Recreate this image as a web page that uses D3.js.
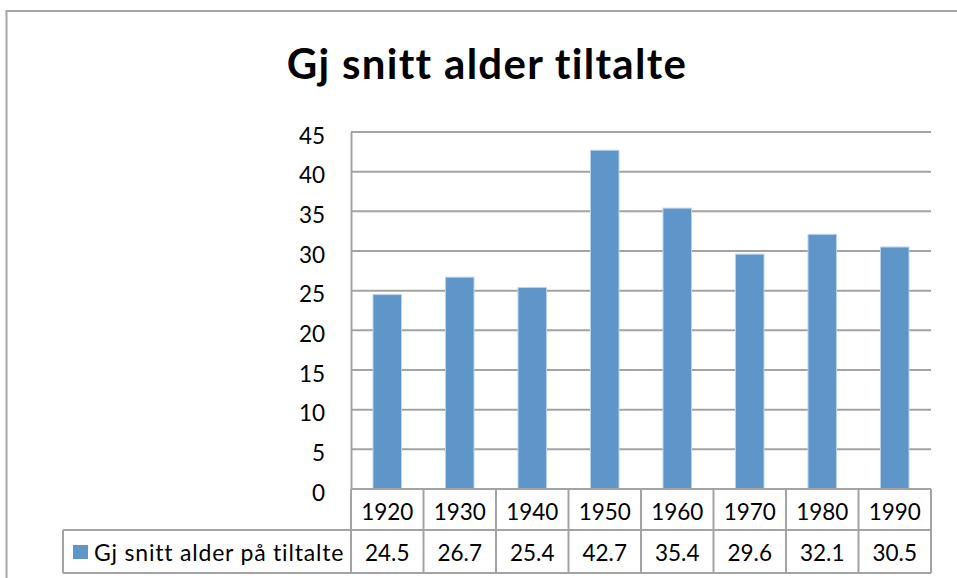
<!DOCTYPE html>
<html lang="no">
<head>
<meta charset="UTF-8">
<title>Gj snitt alder tiltalte</title>
<script src="https://d3js.org/d3.v7.min.js"></script>
<style>
  html, body { margin: 0; padding: 0; background: #fff; }
  svg { display: block; font-family: Lato, "Open Sans", sans-serif; }
</style>
</head>
<body>
<div id="chart"></div>
<script>
// data
const title = "Gj snitt alder tiltalte";
const seriesName = "Gj snitt alder på tiltalte";
const years = ["1920", "1930", "1940", "1950", "1960", "1970", "1980", "1990"];
const values = [24.5, 26.7, 25.4, 42.7, 35.4, 29.6, 32.1, 30.5];
const yTicks = [0, 5, 10, 15, 20, 25, 30, 35, 40, 45];

const width = 957, height = 578;
const plot = { left: 351, right: 931, top: 132, bottom: 489 };
const table = { left: 63, row1: 530, bottom: 573 };
const gridColor = "#a3a3a3";
const labelSize = 22.5;

const svg = d3.select("#chart").append("svg")
    .attr("width", width)
    .attr("height", height);

// outer chart frame (right / bottom edges fall outside the picture)
svg.append("path")
    .attr("d", `M6.5,${height} V11 H${width}`)
    .attr("fill", "none")
    .attr("stroke", "#a6a6a6")
    .attr("stroke-width", 2);

svg.append("text")
    .attr("x", 487)
    .attr("y", 79)
    .attr("text-anchor", "middle")
    .attr("font-size", 42)
    .attr("font-weight", "bold")
    .attr("letter-spacing", 1.3)
    .attr("fill", "#000")
    .text(title);

const x = d3.scaleBand()
    .domain(years)
    .range([plot.left, plot.right])
    .paddingInner(0.607)
    .paddingOuter(0.3035);

const y = d3.scaleLinear()
    .domain([0, 45])
    .range([plot.bottom, plot.top]);

const step = x.step();
const colLeft = d => x(d) - step * x.paddingInner() / 2;

// gridlines
svg.append("g")
    .selectAll("line")
    .data(yTicks)
    .enter().append("line")
    .attr("x1", plot.left)
    .attr("x2", plot.right)
    .attr("y1", d => y(d))
    .attr("y2", d => y(d))
    .attr("stroke", gridColor)
    .attr("stroke-width", 2);

// y axis
const yAxis = svg.append("g")
    .attr("transform", `translate(${plot.left},0)`)
    .call(d3.axisLeft(y).tickValues(yTicks).tickSize(0).tickPadding(26));
yAxis.select(".domain")
    .attr("stroke", gridColor)
    .attr("stroke-width", 2);
yAxis.selectAll("text")
    .attr("font-family", "Lato, sans-serif")
    .attr("font-size", labelSize)
    .attr("fill", "#000")
    .attr("dy", "0.5em");

// bars
svg.append("g")
    .selectAll("rect")
    .data(years)
    .enter().append("rect")
    .attr("x", d => x(d))
    .attr("y", (d, i) => y(values[i]))
    .attr("width", x.bandwidth())
    .attr("height", (d, i) => y(0) - y(values[i]))
    .attr("fill", "#5f96ca")
    .attr("stroke", "#b9d1ea")
    .attr("stroke-width", 1);

// data table
const tbl = svg.append("g")
    .attr("stroke", gridColor)
    .attr("stroke-width", 2);

tbl.append("line")
    .attr("x1", plot.left).attr("x2", plot.right)
    .attr("y1", plot.bottom).attr("y2", plot.bottom);
tbl.append("line")
    .attr("x1", table.left).attr("x2", plot.right)
    .attr("y1", table.row1).attr("y2", table.row1);
tbl.append("line")
    .attr("x1", table.left).attr("x2", plot.right)
    .attr("y1", table.bottom).attr("y2", table.bottom);
tbl.append("line")
    .attr("x1", table.left).attr("x2", table.left)
    .attr("y1", table.row1).attr("y2", table.bottom);
tbl.selectAll(".col")
    .data(years)
    .enter().append("line")
    .attr("class", "col")
    .attr("x1", d => colLeft(d))
    .attr("x2", d => colLeft(d))
    .attr("y1", plot.bottom)
    .attr("y2", table.bottom);
tbl.append("line")
    .attr("x1", plot.right).attr("x2", plot.right)
    .attr("y1", plot.bottom).attr("y2", table.bottom);

svg.append("g")
    .selectAll("text")
    .data(years)
    .enter().append("text")
    .attr("x", d => x(d) + x.bandwidth() / 2)
    .attr("y", 520)
    .attr("text-anchor", "middle")
    .attr("font-size", labelSize)
    .text(d => d);

svg.append("g")
    .selectAll("text")
    .data(years)
    .enter().append("text")
    .attr("x", d => x(d) + x.bandwidth() / 2)
    .attr("y", 561)
    .attr("text-anchor", "middle")
    .attr("font-size", labelSize)
    .text((d, i) => values[i]);

// legend key in the table
svg.append("rect")
    .attr("x", 73)
    .attr("y", 545)
    .attr("width", 15)
    .attr("height", 14)
    .attr("fill", "#5f96ca");

svg.append("text")
    .attr("x", 94)
    .attr("y", 561)
    .attr("font-size", 23)
    .attr("letter-spacing", 0.8)
    .text(seriesName);
</script>
</body>
</html>
